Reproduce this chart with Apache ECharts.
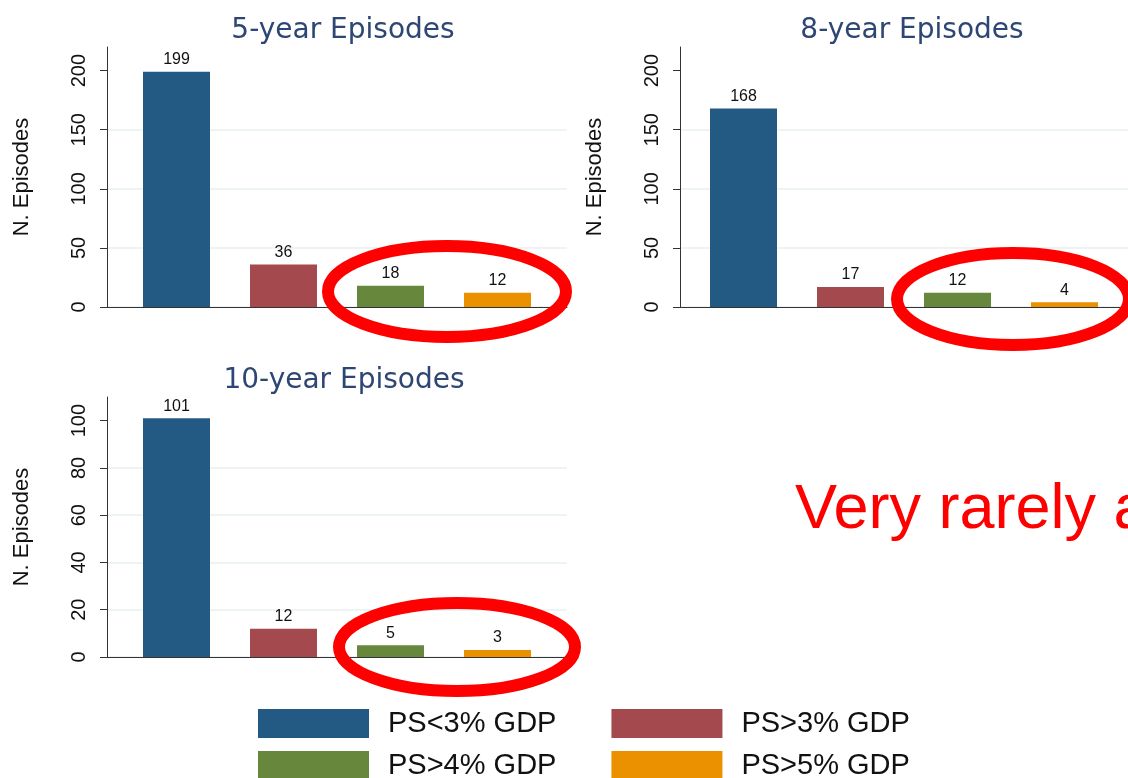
<!DOCTYPE html>
<html>
<head>
<meta charset="utf-8">
<style>
  html, body { margin: 0; padding: 0; background: #fff; }
  #chart { width: 1128px; height: 778px; }
</style>
<script src="https://cdn.jsdelivr.net/npm/echarts@6/dist/echarts.min.js"></script>
</head>
<body>
<div id="chart"></div>
<script>
// data
var groupNames = ['PS<3% GDP', 'PS>3% GDP', 'PS>4% GDP', 'PS>5% GDP'];
var panelTitles = ['5-year Episodes', '8-year Episodes', '10-year Episodes'];
var episodes5 = [199, 36, 18, 12];
var episodes8 = [168, 17, 12, 4];
var episodes10 = [101, 12, 5, 3];
var ticks200 = [0, 50, 100, 150, 200];
var ticks100 = [0, 20, 40, 60, 80, 100];

var colors = ['#235a84', '#a4494e', '#66873c', '#eb9100'];
var font = '"Liberation Sans", Arial, sans-serif';

var chart = echarts.init(document.getElementById('chart'));

var panels = [
  { values: episodes5, ticks: ticks200, max: 220, left: 107, top: 47, titleX: 338, titleY: 12 },
  { values: episodes8, ticks: ticks200, max: 220, left: 680, top: 47, titleX: 907, titleY: 12 },
  { values: episodes10, ticks: ticks100, max: 110, left: 107, top: 397, titleX: 339, titleY: 362 }
];

var grids = [], xAxes = [], yAxes = [], series = [], titles = [];

panels.forEach(function (p, k) {
  grids.push({ left: p.left, top: p.top, width: 460, height: 260 });
  titles.push({
    text: panelTitles[k],
    left: p.titleX,
    top: p.titleY,
    textAlign: 'center',
    textStyle: { fontFamily: '"DejaVu Sans", Verdana, sans-serif', fontSize: 28, fontWeight: 'normal', color: '#2d4673' }
  });
  xAxes.push({
    type: 'category',
    gridIndex: k,
    data: [''],
    axisLine: { lineStyle: { color: '#333', width: 1 } },
    axisTick: { show: false },
    axisLabel: { show: false }
  });
  yAxes.push({
    type: 'value',
    gridIndex: k,
    min: 0,
    max: p.max,
    name: 'N. Episodes',
    nameLocation: 'middle',
    nameRotate: 90,
    nameGap: 74,
    nameTextStyle: { fontFamily: font, fontSize: 22, color: '#111' },
    axisLine: { show: true, lineStyle: { color: '#333', width: 1 } },
    axisTick: { show: true, length: 7, customValues: p.ticks, lineStyle: { color: '#333' } },
    axisLabel: { rotate: 90, margin: 18, customValues: p.ticks, fontFamily: font, fontSize: 20, color: '#111' },
    splitLine: { show: true, showMaxLine: false, lineStyle: { color: '#e8f0f0', width: 1.5 } }
  });
  p.values.forEach(function (v, i) {
    series.push({
      type: 'bar',
      name: groupNames[i],
      xAxisIndex: k,
      yAxisIndex: k,
      data: [v],
      barWidth: 67,
      barGap: '59.7%',
      itemStyle: { color: colors[i] },
      label: { show: true, position: 'top', distance: 4, fontFamily: font, fontSize: 16, color: '#111' }
    });
  });
});

var legendBase = {
  left: 253,
  orient: 'horizontal',
  icon: 'rect',
  itemWidth: 111,
  itemHeight: 29,
  itemGap: 55,
  selectedMode: false,
  textStyle: { fontFamily: font, fontSize: 29, color: '#111', padding: [0, 0, 0, 14] }
};

var option = {
  backgroundColor: '#fff',
  animation: false,
  color: colors,
  title: titles,
  grid: grids,
  xAxis: xAxes,
  yAxis: yAxes,
  series: series,
  legend: [
    Object.assign({}, legendBase, { top: 704, data: [groupNames[0], groupNames[1]] }),
    Object.assign({}, legendBase, { top: 746, data: [groupNames[2], groupNames[3]] })
  ],
  graphic: [
    { type: 'ellipse', z: 100, shape: { cx: 447, cy: 291.5, rx: 119, ry: 45.5 }, style: { fill: 'none', stroke: '#ff0000', lineWidth: 12 } },
    { type: 'ellipse', z: 100, shape: { cx: 1013, cy: 299, rx: 116, ry: 46 }, style: { fill: 'none', stroke: '#ff0000', lineWidth: 12 } },
    { type: 'ellipse', z: 100, shape: { cx: 457, cy: 647, rx: 118, ry: 44 }, style: { fill: 'none', stroke: '#ff0000', lineWidth: 12 } },
    { type: 'text', z: 100, style: { x: 795, y: 511, text: 'Very rarely a', font: '63px "Liberation Sans", Arial, sans-serif', fill: '#ff0000', verticalAlign: 'middle' } }
  ]
};

chart.setOption(option);

window.onresize = function () {
  chart.resize();
};
</script>
</body>
</html>
